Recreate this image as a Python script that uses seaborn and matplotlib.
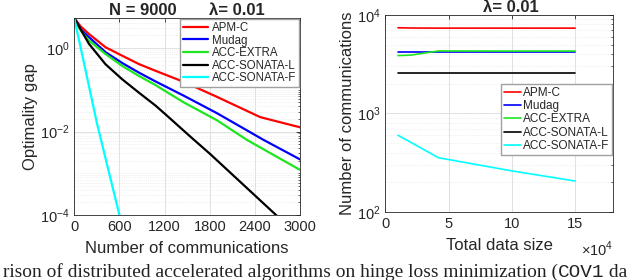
import numpy as np
import pandas as pd
import matplotlib
matplotlib.use("Agg")
import matplotlib.pyplot as plt
import matplotlib.ticker as mticker
import seaborn as sns

# Left panel: optimality gap vs number of communications (N = 9000)
comm_apm = [0, 84, 195, 416, 637, 859, 1080, 1452, 1895, 2470, 3000]
gap_apm = [5.25, 3.31, 2.17, 1.04, 0.653, 0.412, 0.284, 0.155, 0.0676, 0.0221, 0.0126]
comm_mudag = [0, 84, 195, 416, 637, 859, 1080, 1452, 1895, 2514, 3000]
gap_mudag = [5.25, 2.82, 1.82, 0.794, 0.437, 0.257, 0.158, 0.0724, 0.0275, 0.0063, 0.00214]
comm_extra = [0, 84, 195, 416, 637, 859, 1080, 1452, 1895, 2293, 3000]
gap_extra = [5.25, 2.63, 1.51, 0.716, 0.372, 0.214, 0.129, 0.0501, 0.0186, 0.0063, 0.0012]
comm_sonata_l = [0, 106, 195, 416, 637, 859, 1080, 1231, 1540, 1806, 2692, 2800]
gap_sonata_l = [5.25, 2.4, 1.26, 0.407, 0.178, 0.0851, 0.0417, 0.024, 0.00759, 0.00288, 9.55e-5, 6.46e-5]
comm_sonata_f = [0, 305, 600, 650]
gap_sonata_f = [5.25, 0.0148, 1e-4, 4.47e-5]

# Right panel: number of communications vs total data size
data_size = [1e4, 2e4, 4.2e4, 10e4, 15e4]
ncomm_apm = [7400, 7350, 7330, 7330, 7330]
ncomm_mudag = [4240, 4240, 4240, 4240, 4240]
ncomm_extra = [3860, 3900, 4300, 4290, 4290]
ncomm_sonata_l = [2600, 2600, 2600, 2600, 2600]
ncomm_sonata_f = [600, 510, 355, 261, 206]

methods = ["APM-C", "Mudag", "ACC-EXTRA", "ACC-SONATA-L", "ACC-SONATA-F"]
colors = ["#ff0000", "#0000ff", "#1ee61e", "#000000", "#00ffff"]

left_df = pd.concat([
    pd.DataFrame({"comm": c, "gap": g, "method": m})
    for c, g, m in zip(
        [comm_apm, comm_mudag, comm_extra, comm_sonata_l, comm_sonata_f],
        [gap_apm, gap_mudag, gap_extra, gap_sonata_l, gap_sonata_f],
        methods)
])
right_df = pd.concat([
    pd.DataFrame({"size": data_size, "ncomm": n, "method": m})
    for n, m in zip(
        [ncomm_apm, ncomm_mudag, ncomm_extra, ncomm_sonata_l, ncomm_sonata_f],
        methods)
])

sns.set_style("white")
plt.rcParams["font.family"] = ["Liberation Sans", "DejaVu Sans"]
plt.rcParams["mathtext.fontset"] = "custom"
plt.rcParams["mathtext.rm"] = "Liberation Sans"
axcol = "#262626"

fig = plt.figure(figsize=(6.4, 2.8), dpi=100)
ax1 = fig.add_axes([0.116, 0.232, 0.353, 0.704])
ax2 = fig.add_axes([0.602, 0.243, 0.356, 0.704])

sns.lineplot(data=left_df, x="comm", y="gap", hue="method", palette=colors,
             hue_order=methods, sort=False, lw=1.6, ax=ax1)
sns.lineplot(data=right_df, x="size", y="ncomm", hue="method", palette=colors,
             hue_order=methods, sort=False, lw=1.2, ax=ax2)

for ax in (ax1, ax2):
    ax.set_yscale("log")
    ax.yaxis.set_minor_locator(mticker.LogLocator(base=10, subs=np.arange(1, 10), numticks=20))
    ax.yaxis.set_minor_formatter(mticker.NullFormatter())
    ax.grid(True, which="major", color="#dcdcdc", lw=0.6)
    ax.grid(True, which="minor", axis="y", color="#e4e4e4", lw=0.5, ls=":")
    ax.tick_params(direction="in", top=True, right=True, labelsize=10.5,
                   colors=axcol, length=3, width=0.6)
    ax.tick_params(which="minor", direction="in", right=True, length=1.8, width=0.5)
    for s in ax.spines.values():
        s.set_color(axcol)
        s.set_linewidth(0.6)

ax1.set_xlim(0, 3000)
ax1.set_ylim(1e-4, 5.25)
ax1.set_xticks([0, 600, 1200, 1800, 2400, 3000])
ax1.set_yticks([1e-4, 1e-2, 1e0])
ax1.set_xlabel("Number of communications", fontsize=12, color=axcol, labelpad=5)
ax1.set_ylabel("Optimality gap", fontsize=12, color=axcol, labelpad=1)
ax1.set_title("N = 9000       \u03bb= 0.01", fontsize=12, fontweight="bold", pad=2)
ax1.legend(loc="upper right", fontsize=8.3, frameon=True, fancybox=False,
           edgecolor="#a0a0a0", framealpha=1, handlelength=2.2, borderaxespad=0.1,
           labelspacing=0.05, borderpad=0.25, handletextpad=0.3)

ax2.set_xlim(0, 18e4)
ax2.set_ylim(1e2, 1e4)
ax2.set_xticks([0, 5e4, 10e4, 15e4])
ax2.set_xticklabels(["0", "5", "10", "15"])
ax2.set_yticks([1e2, 1e3, 1e4])
ax2.text(1.0, -0.19, r"$\times10^{4}$", transform=ax2.transAxes, ha="right",
         va="center", fontsize=10.5, color=axcol)
ax2.set_xlabel("Total data size", fontsize=12, color=axcol, labelpad=5)
ax2.set_ylabel("Number of communications", fontsize=12, color=axcol, labelpad=1)
ax2.set_title("\u03bb= 0.01", fontsize=12, fontweight="bold", pad=2, x=0.553)
ax2.legend(loc="lower right", bbox_to_anchor=(0.995, 0.29), fontsize=8.5,
           frameon=True, fancybox=False, edgecolor="#a0a0a0", framealpha=1,
           handlelength=1.5, borderaxespad=0.0, labelspacing=0.1, borderpad=0.25,
           handletextpad=0.1)

# caption fragment cut off at the bottom of the picture
cap_a = "rison of distributed accelerated algorithms on hinge loss minimization ("
cap_b = "COV1"
cap_c = " da"
renderer = fig.canvas.get_renderer()


def put_caption(size):
    t1 = fig.text(0.004, 0.012, cap_a, family="Liberation Serif", fontsize=size, color="#222222")
    x = t1.get_window_extent(renderer).x1
    t2 = fig.text(x / fig.bbox.width, 0.012, cap_b, family="Liberation Mono",
                  fontsize=size, color="#222222")
    x = t2.get_window_extent(renderer).x1
    t3 = fig.text(x / fig.bbox.width, 0.012, cap_c, family="Liberation Serif",
                  fontsize=size, color="#222222")
    return [t1, t2, t3], t3.get_window_extent(renderer).x1


texts, end = put_caption(12.5)
for t in texts:
    t.remove()
put_caption(12.5 * (628 - 3) / (end - 3))

fig.savefig("out.png", dpi=100)
